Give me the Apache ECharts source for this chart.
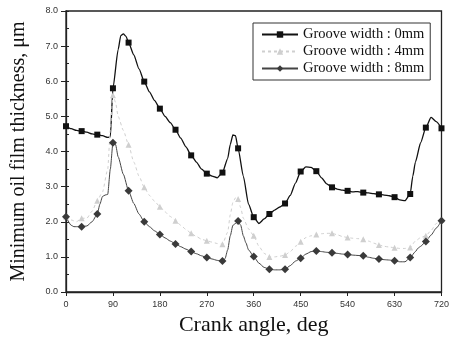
<!DOCTYPE html>
<html>
<head>
<meta charset="utf-8">
<script src="https://cdn.jsdelivr.net/npm/echarts@6/dist/echarts.min.js"></script>
<style>html,body{margin:0;padding:0;background:#fff}#c{width:452px;height:346px}</style>
</head>
<body>
<div id="c"></div>
<script>
// Crank angle (deg)
const angles0 = [0,10,20,30,40,50,60,70,80,85,90,100,105,110,115,120,130,140,150,160,170,180,190,200,210,220,230,240,250,260,270,280,290,300,310,315,320,325,330,340,350,360,370,380,390,400,410,420,430,440,450,460,470,480,490,500,510,520,530,540,550,560,570,580,590,600,610,620,630,640,650,660,665,670,680,690,700,710,720];
const groove0 = [4.72,4.65,4.60,4.58,4.55,4.50,4.48,4.45,4.40,4.42,5.80,6.90,7.30,7.35,7.28,7.10,6.75,6.35,5.99,5.70,5.45,5.22,5.00,4.82,4.62,4.38,4.13,3.89,3.70,3.50,3.37,3.30,3.25,3.40,3.80,4.20,4.47,4.45,4.09,3.30,2.50,2.13,1.95,2.08,2.22,2.33,2.42,2.52,2.75,3.10,3.43,3.56,3.55,3.44,3.25,3.08,2.98,2.93,2.90,2.88,2.85,2.86,2.83,2.82,2.80,2.78,2.76,2.74,2.70,2.62,2.60,2.79,3.30,3.70,4.25,4.68,4.97,4.85,4.66];

const angles4 = [0,10,20,30,40,50,60,70,80,85,90,95,100,110,120,130,140,150,160,170,180,190,200,210,220,230,240,250,260,270,280,290,300,310,315,320,325,330,335,340,350,360,370,380,390,400,410,420,430,440,450,460,470,480,490,500,510,520,530,540,550,560,570,580,590,600,610,620,630,640,650,660,670,680,690,700,710,720];
const groove4 = [2.15,2.05,2.00,2.10,2.10,2.30,2.60,2.85,3.50,4.60,5.60,5.40,5.00,4.60,4.19,3.70,3.30,2.98,2.75,2.58,2.43,2.28,2.15,2.03,1.90,1.78,1.67,1.58,1.50,1.46,1.42,1.38,1.36,1.70,2.20,2.55,2.68,2.65,2.40,2.10,1.80,1.60,1.30,1.10,1.00,1.00,1.02,1.05,1.15,1.30,1.43,1.55,1.60,1.64,1.66,1.67,1.67,1.63,1.58,1.55,1.53,1.52,1.50,1.45,1.39,1.34,1.30,1.28,1.26,1.24,1.24,1.27,1.45,1.55,1.60,1.75,1.95,2.05];

const angles8 = [0,10,15,20,30,40,50,60,65,70,75,80,85,90,95,100,110,120,130,140,150,160,170,180,190,200,210,220,230,240,250,260,270,280,290,300,305,310,315,320,325,330,335,340,345,350,360,370,380,390,400,410,420,430,440,450,460,470,480,490,500,510,520,530,540,550,560,570,580,590,600,610,620,630,640,650,660,670,675,680,690,700,710,720];
const groove8 = [2.14,1.90,1.86,1.86,1.86,1.88,2.00,2.22,2.50,2.72,2.76,2.78,3.50,4.25,4.20,3.85,3.35,2.88,2.52,2.22,2.00,1.86,1.74,1.64,1.54,1.45,1.37,1.29,1.22,1.15,1.09,1.03,0.98,0.94,0.90,0.88,0.95,1.20,1.60,1.90,1.95,2.02,1.90,1.60,1.40,1.20,1.01,0.82,0.70,0.65,0.63,0.63,0.65,0.75,0.88,0.96,1.08,1.15,1.17,1.15,1.13,1.12,1.10,1.08,1.07,1.05,1.04,1.03,0.99,0.96,0.94,0.92,0.91,0.89,0.86,0.86,0.98,1.15,1.25,1.30,1.44,1.62,1.82,2.03];

const seriesNames = ['Groove width : 0mm','Groove width : 4mm','Groove width : 8mm'];
const xTicks = [0,90,180,270,360,450,540,630,720];
const yTicks = [0,1,2,3,4,5,6,7,8];

function pairs(xs, ys){ return xs.map((x,i)=>[x, ys[i]]); }
function markEvery30(size){ return function(v){ return (v[0] % 30 === 0) ? size : 0; }; }

const chart = echarts.init(document.getElementById('c'));
const tickFont = {fontFamily:'Liberation Sans, Arial, sans-serif', fontSize:9, color:'#333'};
chart.setOption({
  backgroundColor:'#fff',
  animation:false,
  grid:{left:66, right:8, top:11, bottom:54, show:true, borderColor:'#222', borderWidth:1.3, backgroundColor:'transparent'},
  legend:{
    orient:'vertical', left:253, top:23,
    padding:[4,6,4,8], itemGap:2, itemWidth:36, itemHeight:8,
    borderColor:'#333', borderWidth:1, backgroundColor:'#fff',
    textStyle:{fontFamily:'Liberation Serif, Times New Roman, serif', fontSize:14.5, color:'#111'},
    data:seriesNames
  },
  xAxis:{
    type:'value', min:xTicks[0], max:xTicks[xTicks.length-1], interval:90,
    axisLine:{lineStyle:{color:'#222', width:1.3}},
    axisTick:{show:true, length:4, lineStyle:{color:'#222'}},
    axisLabel:Object.assign({margin:8, formatter:v=>String(v)}, tickFont),
    splitLine:{show:false},
    name:'Crank angle, deg', nameLocation:'middle', nameGap:22,
    nameTextStyle:{fontFamily:'Liberation Serif, Times New Roman, serif', fontSize:22, color:'#111'}
  },
  yAxis:[{
    type:'value', min:yTicks[0], max:yTicks[yTicks.length-1], interval:1,
    axisLine:{lineStyle:{color:'#222', width:1.3}},
    axisTick:{show:true, length:5, lineStyle:{color:'#222'}},
    axisLabel:Object.assign({margin:8, formatter:v=>v.toFixed(1)}, tickFont),
    splitLine:{show:false},
    name:'Minimum oil film thickness, μm', nameLocation:'middle', nameGap:37,
    nameTextStyle:{fontFamily:'Liberation Serif, Times New Roman, serif', fontSize:20, color:'#111'}
  },{
    type:'value', min:0, max:8, interval:0.5, position:'left', offset:0,
    axisLine:{show:false}, axisLabel:{show:false}, splitLine:{show:false},
    axisTick:{show:true, inside:true, length:3, lineStyle:{color:'#222'}}
  }],
  series:[
    {name:seriesNames[0], type:'line', data:pairs(angles0, groove0), smooth:0.2, smoothMonotone:'x',
     symbol:'rect', symbolSize:markEvery30(6), showAllSymbol:true,
     lineStyle:{color:'#111', width:1.3}, itemStyle:{color:'#111'}},
    {name:seriesNames[1], type:'line', data:pairs(angles4, groove4), smooth:0.2, smoothMonotone:'x',
     symbol:'triangle', symbolSize:markEvery30(6), showAllSymbol:true,
     lineStyle:{color:'#cfcfcf', width:1, type:[3,3]}, itemStyle:{color:'#cfcfcf'}},
    {name:seriesNames[2], type:'line', data:pairs(angles8, groove8), smooth:0.2, smoothMonotone:'x',
     symbol:'diamond', symbolSize:markEvery30(8), showAllSymbol:true,
     lineStyle:{color:'#444', width:1}, itemStyle:{color:'#3a3a3a'}}
  ]
});
</script>
</body>
</html>
